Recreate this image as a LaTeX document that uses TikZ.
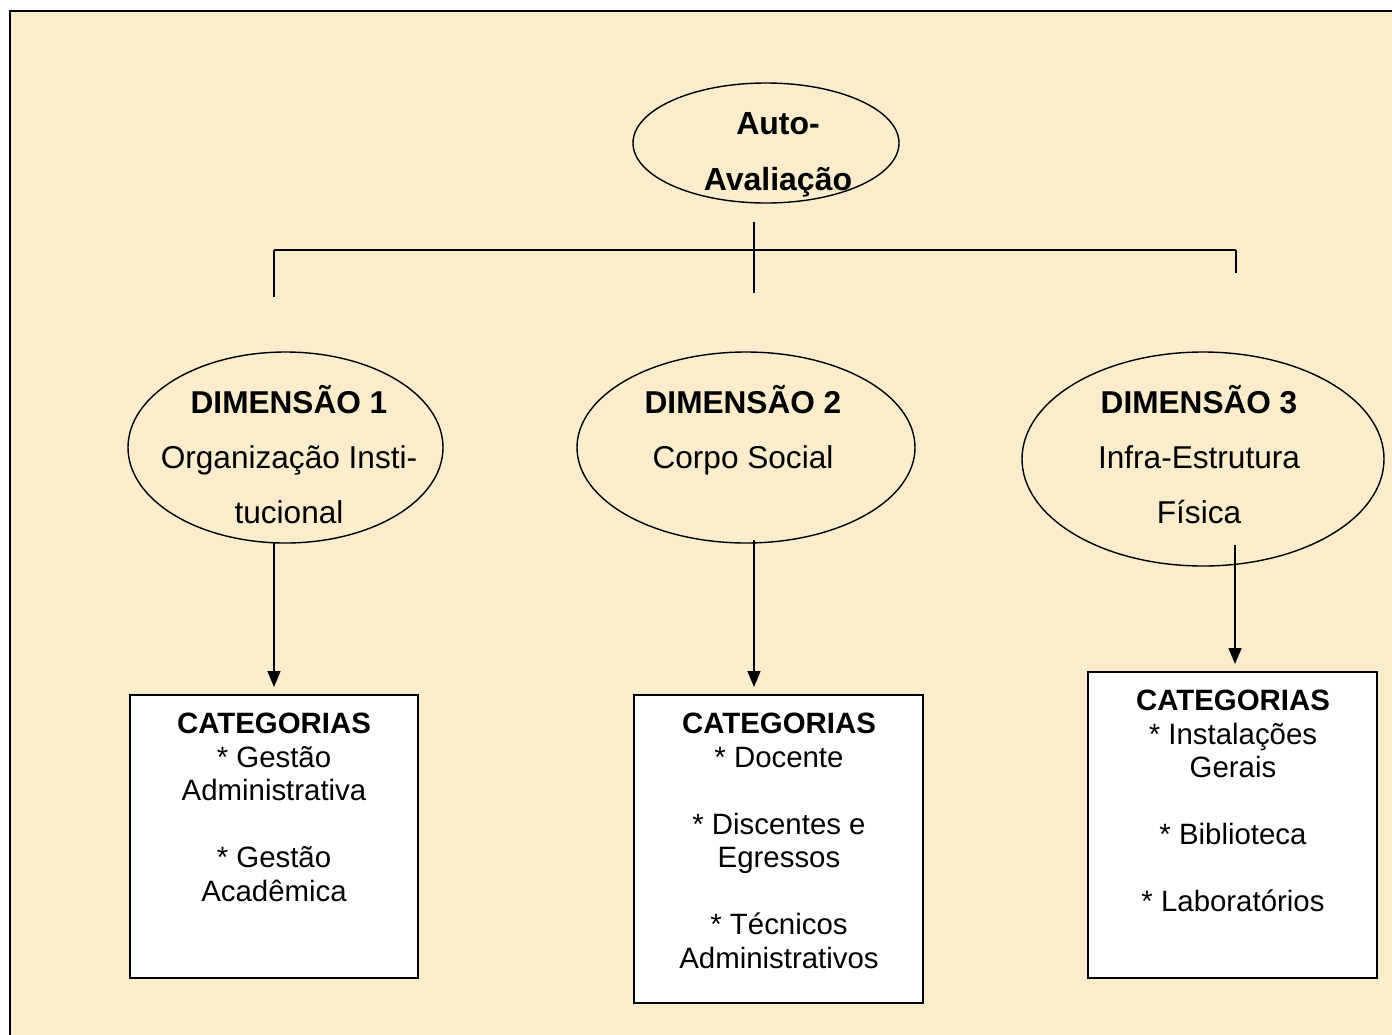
\documentclass[tikz,border=0pt]{standalone}
\usepackage{fontspec}
\setmainfont{Liberation Sans}
\usetikzlibrary{shapes.geometric,arrows.meta}
\definecolor{paper}{RGB}{251,237,204}
\def\px{0.5pt}

\begin{document}
\begin{tikzpicture}[x=\px,y=-\px,
  dimshape/.style={draw,ellipse,line width=0.7pt,inner sep=0pt},
  catbox/.style={draw,fill=white,line width=1pt,inner sep=0pt},
  dimtext/.style={anchor=north,align=center,inner sep=0pt,font=\fontsize{15.8}{27.5}\selectfont},
  cattext/.style={anchor=north,align=center,inner sep=0pt,font=\fontsize{14.7}{16.75}\selectfont},
  link/.style={line width=0.8pt},
  arrowlink/.style={line width=0.8pt,shorten >=3.5pt,-{Triangle[length=8pt,width=6.5pt]}}]
\useasboundingbox (0,0) rectangle (1392,1034);
% page and frame
\fill[paper] (10,11) rectangle (1400,1040);
\draw[line width=1pt] (10,1040) -- (10,11) -- (1400,11);

% top of the tree
\node[dimshape,minimum width=266*\px,minimum height=120*\px] (auto) at (766,143) {};
\node[dimtext,font=\fontsize{16}{28}\selectfont\bfseries] (autotxt) at (778,112) {Auto-\\Avaliação};

% the bar under it
\coordinate (busT) at (754,222);
\coordinate (busB) at (754,293);
\coordinate (busL) at (274,250);
\coordinate (busR) at (1236,250);
\draw[link] (busT) -- (busB);
\draw[link] (busL) -- (busR);
\draw[link] (busL) -- ++(0,47);
\draw[link] (busR) -- ++(0,23);

% dimensions
\node[dimshape,minimum width=315*\px,minimum height=191*\px] (dim1) at (285.5,447.5) {};
\node[dimshape,minimum width=338*\px,minimum height=191*\px] (dim2) at (746,447.5) {};
\node[dimshape,minimum width=362*\px,minimum height=214*\px] (dim3) at (1203,459) {};
\node[dimtext] (dim1txt) at (289,385) {\textbf{DIMENSÃO 1}\\Organização Insti-\\tucional};
\node[dimtext] (dim2txt) at (743,385) {\textbf{DIMENSÃO 2}\\Corpo Social};
\node[dimtext] (dim3txt) at (1199,385) {\textbf{DIMENSÃO 3}\\Infra-Estrutura\\Física};

% categories
\node[catbox,minimum width=288*\px,minimum height=283*\px] (cat1) at (274,836.5) {};
\node[catbox,minimum width=289*\px,minimum height=308*\px] (cat2) at (778.5,849) {};
\node[catbox,minimum width=289*\px,minimum height=306*\px] (cat3) at (1232.5,825) {};
\node[cattext] (cat1txt) at (274,713) {\textbf{CATEGORIAS}\\{*} Gestão\\Administrativa\\[16.75pt]{*} Gestão\\Acadêmica};
\node[cattext] (cat2txt) at (779,713) {\textbf{CATEGORIAS}\\{*} Docente\\[16.75pt]{*} Discentes e\\Egressos\\[16.75pt]{*} Técnicos\\Administrativos};
\node[cattext] (cat3txt) at (1233,690) {\textbf{CATEGORIAS}\\{*} Instalações\\Gerais\\[16.75pt]{*} Biblioteca\\[16.75pt]{*} Laboratórios};

% arrows down
\coordinate (from1) at (274,543);
\coordinate (from2) at (754,540);
\coordinate (from3) at (1235,545);
\draw[arrowlink] (from1) -- (from1 |- cat1.north);
\draw[arrowlink] (from2) -- (from2 |- cat2.north);
\draw[arrowlink] (from3) -- (from3 |- cat3.north);
\end{tikzpicture}
\end{document}
